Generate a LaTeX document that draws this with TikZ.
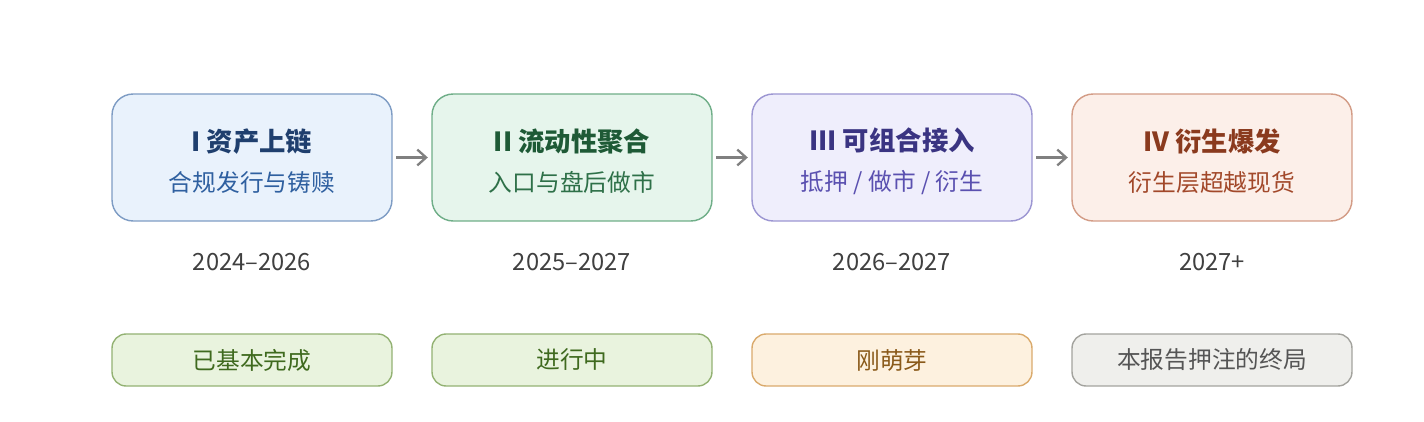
\documentclass[tikz,border=0pt]{standalone}
\usepackage{fontspec}
\setmainfont{Noto Sans CJK SC}
\usetikzlibrary{positioning,arrows.meta}
\definecolor{bluefill}{HTML}{E9F2FC}\definecolor{blueline}{HTML}{7E9CC4}
\definecolor{bluetitle}{HTML}{1F3F6E}\definecolor{bluetext}{HTML}{2F60A0}
\definecolor{greenfill}{HTML}{E6F5EC}\definecolor{greenline}{HTML}{6FAE88}
\definecolor{greentitle}{HTML}{1E5A36}\definecolor{greentext}{HTML}{2E7048}
\definecolor{violetfill}{HTML}{EFEEFC}\definecolor{violetline}{HTML}{9C96D2}
\definecolor{violettitle}{HTML}{3A3482}\definecolor{violettext}{HTML}{5A50B0}
\definecolor{orangefill}{HTML}{FCEFE9}\definecolor{orangeline}{HTML}{D39C86}
\definecolor{orangetitle}{HTML}{8A3A1E}\definecolor{orangetext}{HTML}{A2482A}
\definecolor{donefill}{HTML}{E9F3DE}\definecolor{doneline}{HTML}{93B273}\definecolor{donetext}{HTML}{3F6A1F}
\definecolor{budfill}{HTML}{FDF1DF}\definecolor{budline}{HTML}{DAAA6C}\definecolor{budtext}{HTML}{8A5A1A}
\definecolor{endfill}{HTML}{EFEFEC}\definecolor{endline}{HTML}{A3A39E}\definecolor{endtext}{HTML}{555555}
\tikzset{
  stagebox/.style={rounded corners=12pt, line width=0.8pt, minimum width=5.6cm, minimum height=2.54cm, align=center, inner sep=0pt},
  statebox/.style={rounded corners=8pt, line width=0.8pt, minimum width=5.6cm, minimum height=1.04cm, font=\fontsize{13.5}{16}\selectfont},
  yearlabel/.style={text=black!75, font=\fontsize{13.5}{16}\selectfont},
  stagearrow/.style={-{Straight Barb[length=5pt,width=9pt]}, draw=black!50, line width=1.3pt, shorten <=2pt, shorten >=2pt}
}
\newcommand{\stagetext}[4]{\rule{0pt}{17pt}{\color{#1}\fontsize{15}{18}\selectfont\bfseries #2}\\[9pt]{\color{#3}\fontsize{13.5}{16}\selectfont #4}}
\begin{document}
\begin{tikzpicture}[x=0.02cm, y=-0.02cm]
\useasboundingbox[fill=white] (0,0) rectangle (1424,422);

\node[stagebox, fill=bluefill, draw=blueline] (S1) at (252,157.5) {\stagetext{bluetitle}{I 资产上链}{bluetext}{合规发行与铸赎}};
\node[stagebox, fill=greenfill, draw=greenline] (S2) at (572,157.5) {\stagetext{greentitle}{II 流动性聚合}{greentext}{入口与盘后做市}};
\node[stagebox, fill=violetfill, draw=violetline] (S3) at (892,157.5) {\stagetext{violettitle}{III 可组合接入}{violettext}{抵押 / 做市 / 衍生}};
\node[stagebox, fill=orangefill, draw=orangeline] (S4) at (1212,157.5) {\stagetext{orangetitle}{IV 衍生爆发}{orangetext}{衍生层超越现货}};

\draw[stagearrow] (S1) -- (S2);
\draw[stagearrow] (S2) -- (S3);
\draw[stagearrow] (S3) -- (S4);

\node[yearlabel] (Y1) at (252,262) {2024–2026};
\node[yearlabel] (Y2) at (572,262) {2025–2027};
\node[yearlabel] (Y3) at (892,262) {2026–2027};
\node[yearlabel] (Y4) at (1212,262) {2027+};

\node[statebox, fill=donefill, draw=doneline, text=donetext] (T1) at (252,360) {已基本完成};
\node[statebox, fill=donefill, draw=doneline, text=donetext] (T2) at (572,360) {进行中};
\node[statebox, fill=budfill, draw=budline, text=budtext] (T3) at (892,360) {刚萌芽};
\node[statebox, fill=endfill, draw=endline, text=endtext] (T4) at (1212,360) {本报告押注的终局};
\end{tikzpicture}
\end{document}
